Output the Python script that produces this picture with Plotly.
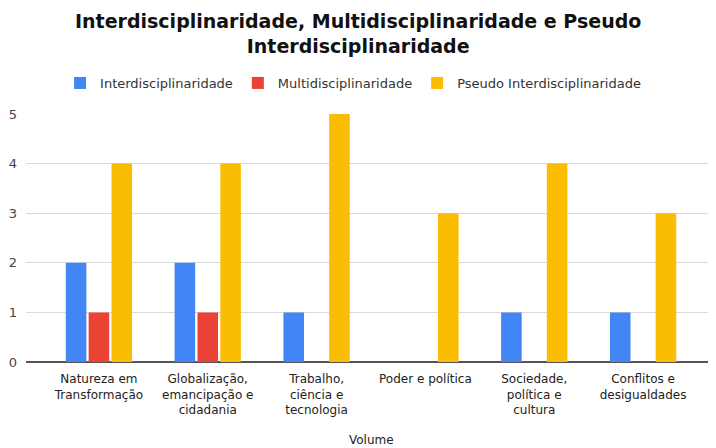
import plotly.graph_objects as go

categories = ["Natureza em<br>Transformação", "Globalização,<br>emancipação e<br>cidadania",
              "Trabalho,<br>ciência e<br>tecnologia", "Poder e política",
              "Sociedade,<br>política e<br>cultura", "Conflitos e<br>desigualdades"]
inter = [2, 2, 1, 0, 1, 1]
multi = [1, 1, 0, 0, 0, 0]
pseudo = [4, 4, 5, 3, 4, 3]
series_names = ["Interdisciplinaridade", "Multidisciplinaridade", "Pseudo Interdisciplinaridade"]
colors = ["#4285F4", "#EA4335", "#FBBC04"]

fig = go.Figure()
for name, vals, c in zip(series_names, [inter, multi, pseudo], colors):
    fig.add_trace(go.Bar(x=list(range(len(categories))), y=vals, name=name, marker_color=c,
                         marker_line_width=0))

# page body has an 8px margin, so the figure is sized 708x440 and offset accordingly
fig.update_layout(
    width=708, height=440,
    margin=dict(l=18, r=0, t=106, b=86, autoexpand=False),
    paper_bgcolor="white", plot_bgcolor="white",
    barmode="group", bargap=0.37, bargroupgap=0.1,
    font=dict(family="DejaVu Sans, Arial", color="#222"),
    legend=dict(orientation="h", x=0.474, xanchor="center", y=1.125, yanchor="middle",
                font=dict(size=13, color="#333"), itemwidth=30),
    xaxis=dict(tickmode="array", tickvals=list(range(len(categories))), ticktext=categories,
               range=[-0.67, 5.67], showgrid=False, showline=False, ticks="",
               tickfont=dict(size=12, color="#222"), ticklabelstandoff=8, automargin=False),
    yaxis=dict(range=[0, 5.0], dtick=1, showgrid=True, gridcolor="#d9d9d9", zeroline=True,
               zerolinecolor="#555", zerolinewidth=1.5, tickfont=dict(size=13, color="#444"),
               ticks="", ticklabelstandoff=8, automargin=False),
    annotations=[
        dict(text="<b>Interdisciplinaridade, Multidisciplinaridade e Pseudo<br>Interdisciplinaridade</b>",
             x=0.481, xref="paper", y=1.3266, yref="paper", xanchor="center", yanchor="middle",
             showarrow=False, font=dict(size=19, color="#111", family="DejaVu Sans, Arial")),
        dict(text="Volume", x=0.5, xref="paper", y=-0.3145, yref="paper", xanchor="center",
             yanchor="middle", showarrow=False, font=dict(size=12, color="#222")),
    ],
)
fig.write_html("out.html")
